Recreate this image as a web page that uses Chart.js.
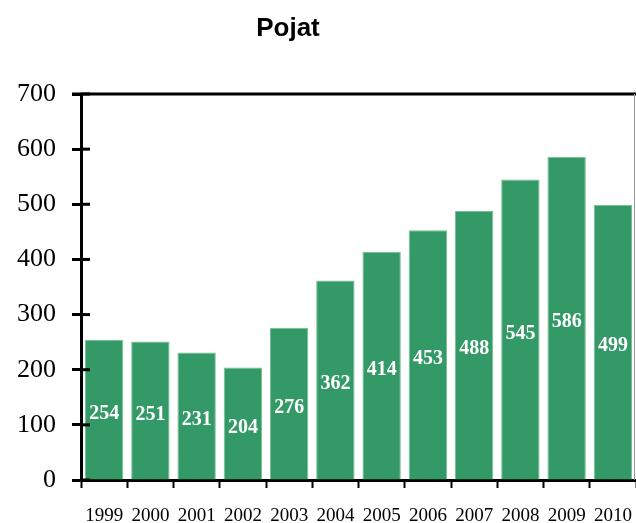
<!DOCTYPE html>
<html>
<head>
<meta charset="utf-8">
<script src="https://cdn.jsdelivr.net/npm/chart.js@4.4.1/dist/chart.umd.min.js"></script>
<style>
  html, body { margin: 0; padding: 0; background: #fff; }
  #wrap { width: 636px; height: 523px; }
</style>
</head>
<body>
<div id="wrap"><canvas id="myChart"></canvas></div>
<script>
var years = ["1999", "2000", "2001", "2002", "2003", "2004", "2005", "2006", "2007", "2008", "2009", "2010"];
var boys = [254, 251, 231, 204, 276, 362, 414, 453, 488, 545, 586, 499];
var yTicks = [0, 100, 200, 300, 400, 500, 600, 700];

var green = 'rgb(51, 153, 102)';

// title, inner half of y ticks, frame lines and bar labels
var extras = {
    id: 'extras',
    afterDraw: function(chart) {
        var ctx = chart.ctx;
        var area = chart.chartArea;
        var y = chart.scales.y;

        ctx.save();
        ctx.fillStyle = '#000';
        ctx.font = 'bold 26px "Liberation Sans", Arial, sans-serif';
        ctx.textAlign = 'center';
        ctx.textBaseline = 'middle';
        ctx.fillText("Pojat", 288, 29);

        ctx.strokeStyle = '#000';
        ctx.lineWidth = 3;
        yTicks.forEach(function(v) {
            var py = y.getPixelForValue(v);
            ctx.beginPath();
            ctx.moveTo(area.left, py);
            ctx.lineTo(area.left + 9, py);
            ctx.stroke();
        });

        // top frame
        ctx.beginPath();
        ctx.moveTo(area.left - 9, area.top);
        ctx.lineTo(area.right, area.top);
        ctx.stroke();

        // right frame
        ctx.strokeStyle = '#999';
        ctx.lineWidth = 1;
        ctx.beginPath();
        ctx.moveTo(area.right - 1.5, area.top);
        ctx.lineTo(area.right - 1.5, area.bottom);
        ctx.stroke();

        var meta = chart.getDatasetMeta(0);
        ctx.fillStyle = '#fff';
        ctx.font = 'bold 20px "Liberation Serif", "Times New Roman", serif';
        meta.data.forEach(function(bar, i) {
            var mid = (bar.y + bar.base) / 2;
            ctx.fillText(String(boys[i]), bar.x, mid + 4);
        });
        ctx.restore();
    }
};

const el = document.getElementById('myChart');

const config = {
    type: 'bar',
    data: {
        labels: years,
        datasets: [{
            label: "Pojat",
            data: boys,
            backgroundColor: green,
            borderColor: 'rgb(120, 190, 150)',
            borderWidth: 1,
            categoryPercentage: 1,
            barPercentage: 0.83
        }]
    },
    options: {
        responsive: true,
        maintainAspectRatio: false,
        animation: false,
        layout: { padding: { top: 94, right: 0, left: 0, bottom: 0 } },
        plugins: {
            legend: { display: false },
            title: { display: false },
            tooltip: { enabled: false }
        },
        scales: {
            x: {
                grid: {
                    offset: true,
                    drawOnChartArea: false,
                    tickLength: 8,
                    tickWidth: 2,
                    tickColor: '#000'
                },
                border: { color: '#000', width: 3 },
                ticks: {
                    color: '#000',
                    padding: 17,
                    maxRotation: 0,
                    autoSkip: false,
                    font: { family: '"Liberation Serif", "Times New Roman", serif', size: 19 }
                },
                afterFit: function(s) {
                    s.height = 43;
                    s.paddingLeft = 0;
                    s.paddingRight = 0;
                }
            },
            y: {
                min: 0,
                max: 700,
                afterBuildTicks: function(s) {
                    s.ticks = yTicks.map(function(v) { return { value: v }; });
                },
                grid: {
                    drawOnChartArea: false,
                    tickLength: 9,
                    tickWidth: 3,
                    tickColor: '#000'
                },
                border: { color: '#000', width: 3 },
                ticks: {
                    color: '#000',
                    padding: 16,
                    font: { family: '"Liberation Serif", "Times New Roman", serif', size: 26 }
                },
                afterFit: function(s) { s.width = 81; }
            }
        }
    },
    plugins: [extras]
};

new Chart(el, config);
</script>
</body>
</html>
